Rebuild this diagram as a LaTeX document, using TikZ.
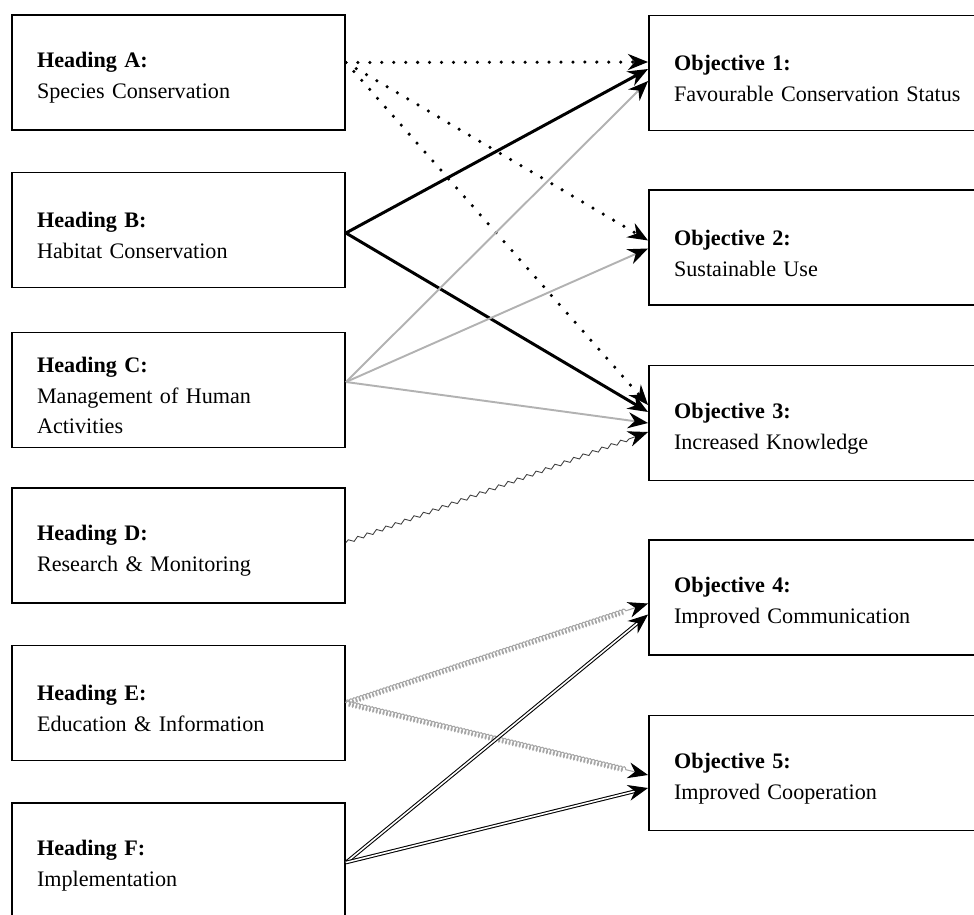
\documentclass[tikz,border=0pt]{standalone}
\usepackage{fontspec}
\setmainfont{Liberation Serif}
\usetikzlibrary{arrows.meta,calc,decorations.pathmorphing}

\tikzset{
    box/.style={draw,line width=1.1pt,align=left,inner xsep=0.5cm,
        minimum height=2.3cm,font=\fontsize{12.6}{17.6}\selectfont,
        execute at begin node={\rule{0pt}{15pt}}},
    headbox/.style={box,minimum width=6.66cm,text width=5.66cm},
    objbox/.style={box,minimum width=6.82cm,text width=5.82cm},
    tip/.style={-{Stealth[length=0.4cm,width=0.32cm,inset=0.13cm,color=black]}},
    speciesline/.style={tip,line width=2pt,line cap=round,dash pattern=on 0pt off 6.8pt},
    habitatline/.style={tip,line width=1.7pt},
    humanline/.style={tip,line width=1.1pt,gray!60},
    researchline/.style={tip,line width=0.5pt,black!75,decorate,
        decoration={snake,amplitude=0.035cm,segment length=0.2cm,post length=0.4cm}},
    educationline/.style={tip,line width=0.6pt,gray!70,decorate,
        decoration={coil,amplitude=0.05cm,segment length=0.07cm,post length=0.4cm}},
    implline/.style={tip,line width=0.6pt,double,double distance=0.9pt}
}

\begin{document}
\begin{tikzpicture}[x=0.02cm,y=-0.02cm]
    \useasboundingbox (0,0) rectangle (974,915);
    % headings on the left
    \foreach \id/\yy/\name in {A/72.5/Species Conservation,B/230/Habitat Conservation,
        C/390/{Management of Human\\Activities},D/545.5/Research \& Monitoring,
        E/703/Education \& Information,F/860.5/Implementation}{
        \node[headbox] (h\id) at (178.5,\yy) {\textbf{Heading \id:}\\\name};
    }
    % objectives on the right
    \foreach \k/\yy/\name in {1/73/Favourable Conservation Status,2/247.5/Sustainable Use,
        3/423/Increased Knowledge,4/597.5/Improved Communication,5/773/Improved Cooperation}{
        \node[objbox] (o\k) at (819.5,\yy) {\textbf{Objective \k:}\\\name};
    }
    % connectors
    \draw[speciesline] ($(hA.east)+(0,-10)$) -- ($(o1.west)+(0,-11)$);
    \draw[speciesline] ($(hA.east)+(0,-10)$) -- ($(o2.west)+(0,-7)$);
    \draw[speciesline] ($(hA.east)+(0,-10)$) -- ($(o3.west)+(0,-18)$);
    \draw[habitatline] ($(hB.east)+(0,3)$) -- ($(o1.west)+(0,-4)$);
    \draw[habitatline] ($(hB.east)+(0,3)$) -- ($(o3.west)+(0,-11)$);
    \foreach \k/\dy in {1/8,2/1,3/0}
        \draw[humanline] ($(hC.east)+(0,-8)$) -- ($(o\k.west)+(0,\dy)$);
    \draw[researchline] ($(hD.east)+(0,-3)$) -- ($(o3.west)+(0,9)$);
    \draw[educationline] (hE.east) -- ($(o4.west)+(0,6)$);
    \draw[educationline] (hE.east) -- ($(o5.west)+(0,2)$);
    \draw[implline] ($(hF.east)+(0,2)$) -- ($(o4.west)+(0,17)$);
    \draw[implline] ($(hF.east)+(0,2)$) -- ($(o5.west)+(0,15)$);
\end{tikzpicture}
\end{document}
